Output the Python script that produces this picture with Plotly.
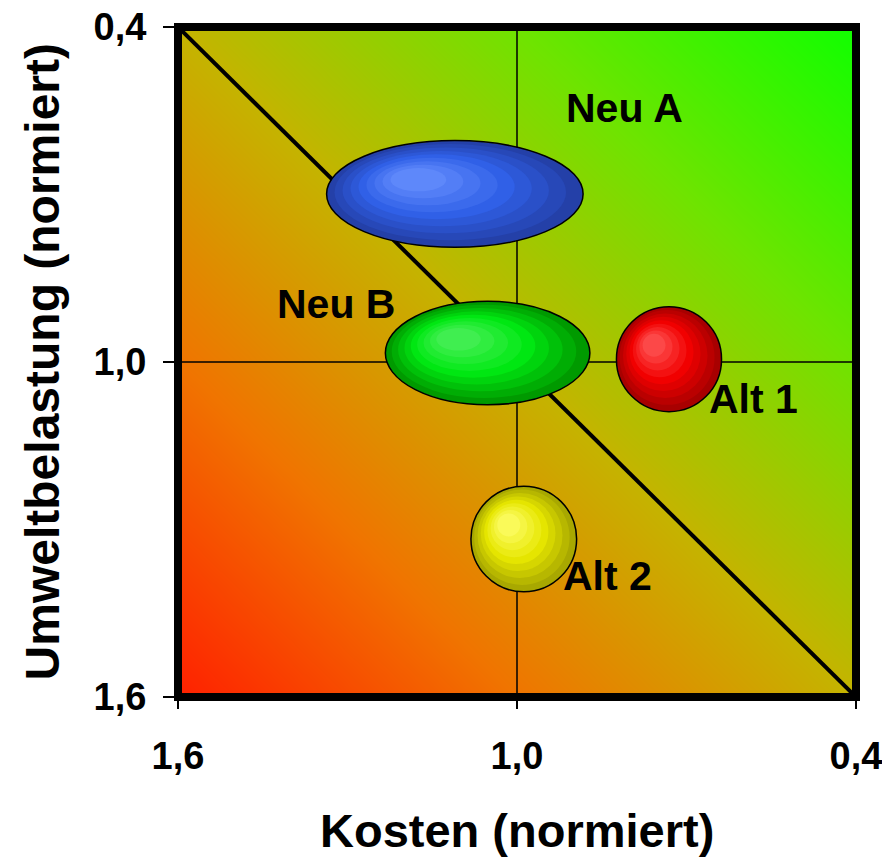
import plotly.graph_objects as go
import numpy as np

# ---- data ----
names = ["Neu A", "Neu B", "Alt 1", "Alt 2"]
kosten = [1.11, 1.052, 0.731, 0.988]          # centre, x (normiert)
kosten_spread = [0.227, 0.181, 0.093, 0.0935]  # half-width
umwelt = [0.699, 0.984, 0.995, 1.317]          # centre, y (normiert)
umwelt_spread = [0.0955, 0.0926, 0.094, 0.0946]
label_x = [0.809, 1.32, 0.582, 0.839]
label_y = [0.545, 0.896, 1.066, 1.383]
colors_dark = ["#2440a8", "#009a00", "#a80000", "#a8a800"]
colors_mid = ["#3060e8", "#00e812", "#f20000", "#e6e600"]
colors_light = ["#6a92ff", "#50f060", "#ff5a5a", "#ffff70"]
tick_vals = [1.6, 1.0, 0.4]
tick_text = ["1,6", "1,0", "0,4"]

FONT = "Arial, Liberation Sans, sans-serif"

def hex2rgb(h):
    h = h.lstrip("#")
    return np.array([int(h[i:i + 2], 16) for i in (0, 2, 4)], dtype=float)

def mix(a, b, t):
    c = hex2rgb(a) * (1 - t) + hex2rgb(b) * t
    return "rgb(%d,%d,%d)" % tuple(np.round(c).astype(int))

fig = go.Figure()

# background gradient (red bottom-left -> green top-right)
gx = np.linspace(0.4, 1.6, 60)
gy = np.linspace(0.4, 1.6, 60)
GX, GY = np.meshgrid(gx, gy)
Z = (1.6 - GX) / 1.2 + (1.6 - GY) / 1.2
fig.add_trace(go.Heatmap(
    x=gx, y=gy, z=Z, zmin=0, zmax=2, zsmooth="best", showscale=False,
    hoverinfo="skip",
    colorscale=[[0, "#ff2000"], [0.25, "#f07400"], [0.5, "#c4b400"],
                [0.75, "#6ee400"], [1, "#10ff00"]]))

shapes = []
# grid lines at 1,0
shapes.append(dict(type="line", xref="x", yref="y", x0=1.0, x1=1.0, y0=0.4, y1=1.6,
                   line=dict(color="black", width=1.5), layer="above"))
shapes.append(dict(type="line", xref="x", yref="y", x0=1.6, x1=0.4, y0=1.0, y1=1.0,
                   line=dict(color="black", width=1.5), layer="above"))
# diagonal
shapes.append(dict(type="line", xref="x", yref="y", x0=1.6, x1=0.4, y0=0.4, y1=1.6,
                   line=dict(color="black", width=4), layer="above"))

# bubbles with stepped radial shading
N = 9
for i in range(len(names)):
    cx, cy = kosten[i], umwelt[i]
    hw, hh = kosten_spread[i], umwelt_spread[i]
    offx, offy = 0.32 * hw, -0.3 * hh   # highlight toward upper-left (x reversed)
    shapes.append(dict(type="circle", xref="x", yref="y",
                       x0=cx - hw, x1=cx + hw, y0=cy - hh, y1=cy + hh,
                       fillcolor=colors_dark[i], line=dict(color="black", width=1.5),
                       layer="above"))
    for k in range(1, N):
        t = k / N
        s = 1 - t * 0.88
        ccx = cx + offx * t
        ccy = cy + offy * t
        if t < 0.45:
            col = mix(colors_dark[i], colors_mid[i], t / 0.45)
        else:
            col = mix(colors_mid[i], colors_light[i], (t - 0.45) / 0.55)
        shapes.append(dict(type="circle", xref="x", yref="y",
                           x0=ccx - hw * s, x1=ccx + hw * s,
                           y0=ccy - hh * s, y1=ccy + hh * s,
                           fillcolor=col, line=dict(width=0), layer="above"))

# thick border
shapes.append(dict(type="rect", xref="paper", yref="paper", x0=0, x1=1, y0=0, y1=1,
                   line=dict(color="black", width=8), fillcolor="rgba(0,0,0,0)",
                   layer="above"))

annotations = []
for i in range(len(names)):
    annotations.append(dict(x=label_x[i], y=label_y[i], xref="x", yref="y",
                            text=names[i], showarrow=False,
                            font=dict(family=FONT, size=41, color="black", weight="bold")))
annotations.append(dict(x=0.5, y=-0.199, xref="paper", yref="paper",
                        text="Kosten (normiert)", showarrow=False,
                        xanchor="center", yanchor="middle",
                        font=dict(family=FONT, size=47, color="black", weight="bold")))
annotations.append(dict(x=-0.2, y=0.5, xref="paper", yref="paper",
                        text="Umweltbelastung (normiert)", showarrow=False,
                        textangle=-90, xanchor="center", yanchor="middle",
                        font=dict(family=FONT, size=48, color="black", weight="bold")))

fig.update_layout(
    width=882, height=859,
    margin=dict(l=178, r=26, t=27, b=162, autoexpand=False),
    paper_bgcolor="white", plot_bgcolor="white",
    shapes=shapes, annotations=annotations, showlegend=False,
    xaxis=dict(range=[1.6, 0.4], tickvals=tick_vals, ticktext=tick_text,
               showgrid=False, zeroline=False, showline=False, automargin=False,
               ticks="outside", ticklen=11, tickwidth=1.5, tickcolor="black",
               ticklabelstandoff=14, ticklabeloverflow="allow",
               tickfont=dict(family=FONT, size=38, color="black", weight="bold")),
    yaxis=dict(range=[1.6, 0.4], tickvals=tick_vals, ticktext=tick_text,
               showgrid=False, zeroline=False, showline=False, automargin=False,
               ticks="outside", ticklen=14, tickwidth=1.5, tickcolor="black",
               ticklabelstandoff=9, ticklabeloverflow="allow",
               tickfont=dict(family=FONT, size=38, color="black", weight="bold")),
)

fig.write_html("out.html")
